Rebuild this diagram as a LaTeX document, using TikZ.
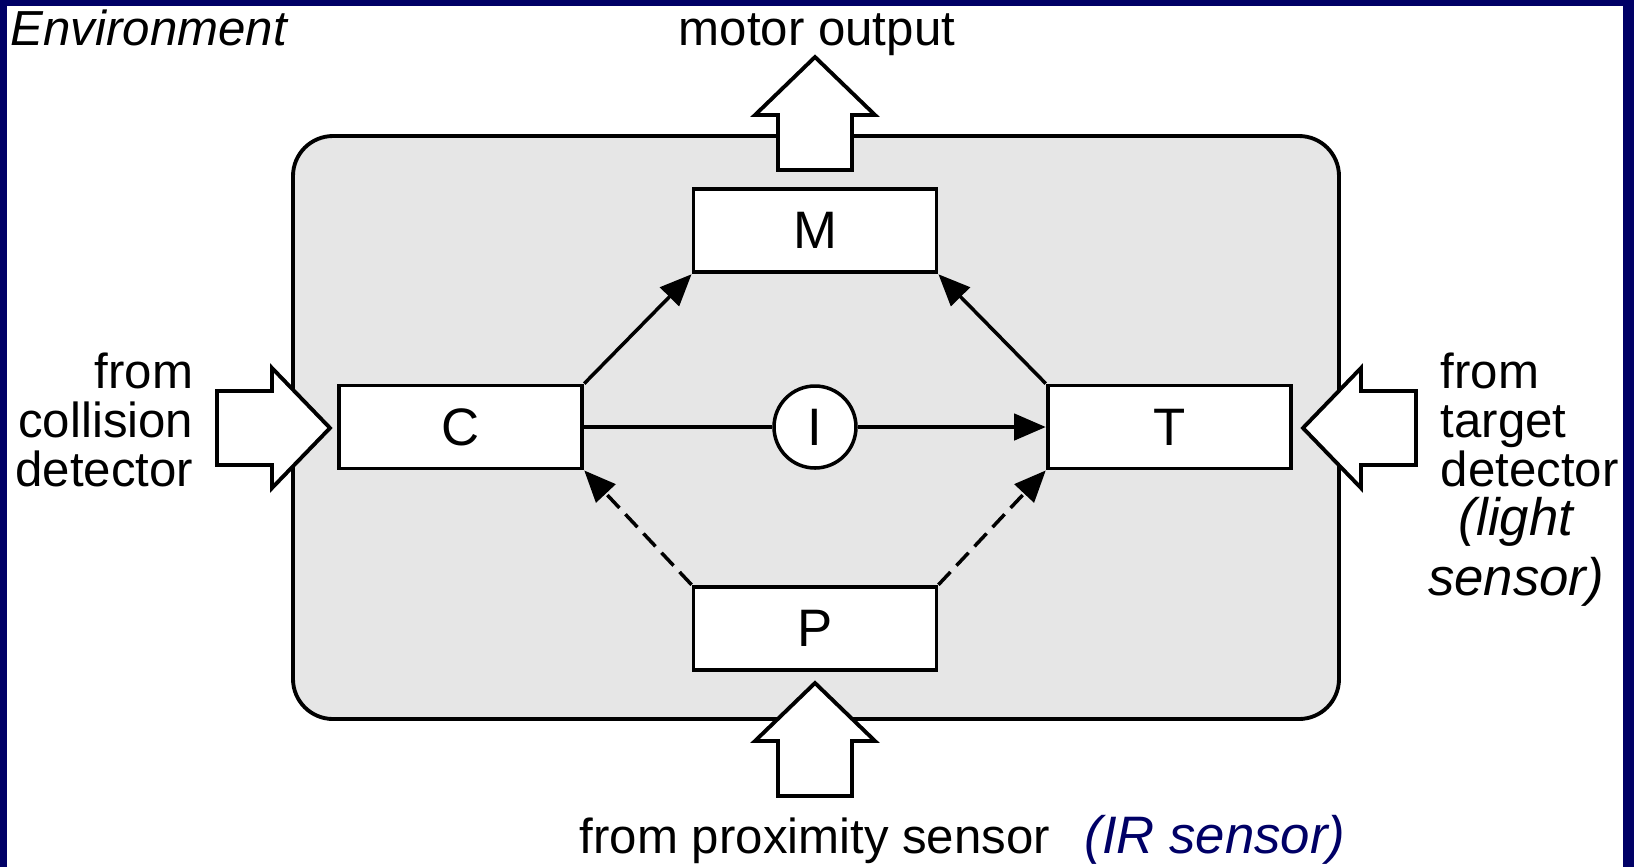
\documentclass[tikz,border=0pt]{standalone}
\usepackage{fontspec}
\setmainfont{Liberation Sans}
\usetikzlibrary{arrows.meta, positioning}
\definecolor{framenavy}{HTML}{000066}
\definecolor{panelgray}{HTML}{E6E6E6}
\tikzset{
  % Behaviour modules
  module/.style={
    draw=black, fill=white, line width=1.1pt,
    minimum width=24.3mm, minimum height=8.3mm,
    font=\fontsize{15}{15}\selectfont, inner sep=0pt,
  },
  junction/.style={
    circle, draw=black, fill=white, line width=1pt,
    minimum size=8.2mm, inner sep=0pt,
    font=\fontsize{15}{15}\selectfont,
  },
  % Robot body
  body/.style={
    draw=black, fill=panelgray, rounded corners=4mm, line width=1.1pt,
  },
  % Arrows
  sig/.style={-{Triangle[length=9pt, width=7.5pt]}, line width=1pt},
  inhib/.style={sig, dash pattern=on 5pt off 2.5pt},
  wire/.style={line width=1pt},
  bigarr/.style={draw=black, fill=white, line width=1.1pt, line join=miter},
  bigarrow/.pic={
    \draw[bigarr] (0,0) -- (-58,-60) -- (-58,-37) -- (-113,-37)
      -- (-113,37) -- (-58,37) -- (-58,60) -- cycle;
  },
  % Labels
  lbl/.style={font=\fontsize{14}{14}\selectfont, inner sep=0pt},
  note/.style={font=\fontsize{15}{17}\selectfont\itshape, inner sep=0pt},
}

\begin{document}
\begin{tikzpicture}[x=0.1mm, y=-0.1mm]
  \useasboundingbox (0,0) rectangle (1634,867);
  % frame
  \fill[framenavy] (0,0) rectangle (7,867);
  \fill[framenavy] (0,0) rectangle (1634,6);
  \fill[framenavy] (1623,0) rectangle (1634,867);

  \draw[body] (293,136) rectangle (1339,719);

  % input / output arrows
  \pic[rotate=90] at (815,57) {bigarrow};
  \pic[rotate=90] at (815,683) {bigarrow};
  \pic at (330,428) {bigarrow};
  \pic[rotate=180] at (1303,428) {bigarrow};

  % modules
  \node[junction] (I) at (815,427) {I};
  \node[module, above=11.0mm of I] (M) {M};
  \node[module, below=11.5mm of I] (P) {P};
  \node[module, left=18.8mm of I] (C) {C};
  \node[module, right=18.8mm of I] (T) {T};

  \draw[sig] (C.north east) -- (M.south west);
  \draw[sig] (T.north west) -- (M.south east);
  \draw[wire] (C) -- (I);
  \draw[sig] (I) -- (T);
  \draw[inhib] (P.north west) -- (C.south east);
  \draw[inhib] (P.north east) -- (T.south west);

  % labels
  \node[lbl, font=\fontsize{14}{14}\selectfont\itshape, anchor=base west]
    (env) at (10,45) {Environment};
  \node[lbl, anchor=base] (motor) at (817,45) {motor output};
  \node[lbl, align=right, anchor=north east] (coll) at (194,352)
    {from\\collision\\detector};
  \node[lbl, align=left, anchor=north west] (targ) at (1440,352)
    {from\\target\\detector};
  \node[note, align=center, anchor=north] (light) at (1516,497)
    {(light\\sensor)};
  \node[lbl, anchor=base] (prox) at (815,853) {from proximity sensor};
  \node[note, text=framenavy, anchor=base west] (ir) at (1084,853)
    {(IR sensor)};
\end{tikzpicture}
\end{document}
